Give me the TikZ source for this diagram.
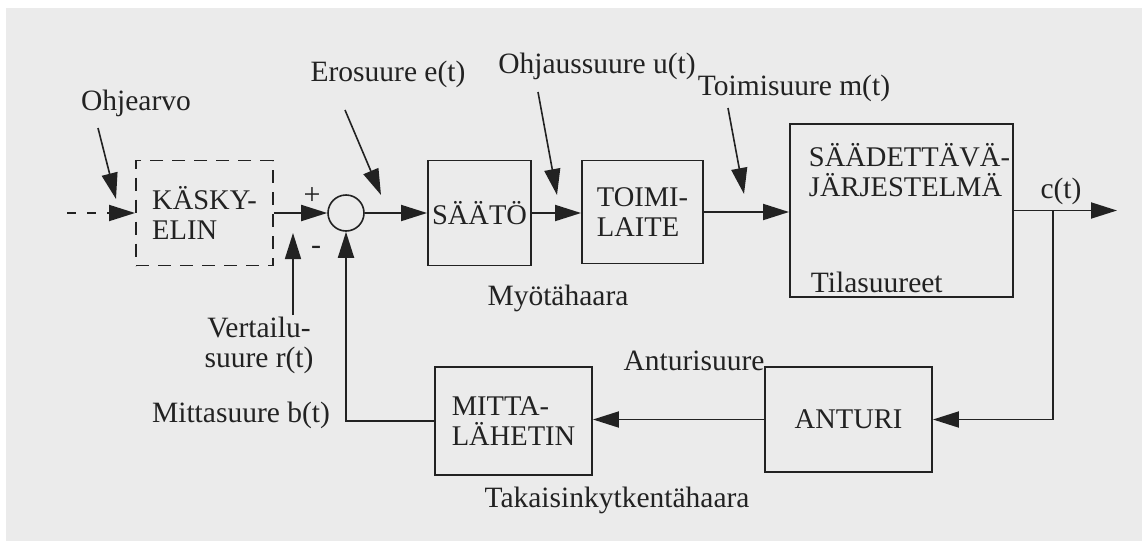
\documentclass[tikz,border=0pt]{standalone}
\usepackage{fontspec}
\setmainfont{Liberation Serif}
\usetikzlibrary{arrows.meta,calc}
\definecolor{ink}{HTML}{222222}
\definecolor{paper}{HTML}{EBEBEB}
\newcommand{\blkfont}{\fontsize{28.5}{30}\selectfont}
\newcommand{\lblfont}{\fontsize{29.5}{30}\selectfont}
\newcommand{\signfont}{\fontsize{30}{30}\selectfont}

\begin{document}
\begin{tikzpicture}[x=1pt,y=-1pt,
  color=ink, line width=1.9pt,
  >={Triangle[length=26pt,width=16pt]},
  blk/.style={draw, rectangle, inner sep=0pt, font=\blkfont, align=left},
  lbl/.style={inner sep=0pt, font=\lblfont, align=center},
  sign/.style={inner sep=0pt, font=\signfont},
  dashbox/.style={blk, dash pattern=on 13pt off 9pt},
  sig/.style={->},
  tag/.style={->, line width=1.6pt}]

% paper
\fill[white] (0,0) rectangle (1142,541);
\fill[paper] (6,8) rectangle (1142,541);
\useasboundingbox (0,0) rectangle (1142,541);

% blocks of the loop
\node[dashbox, minimum width=137pt, minimum height=105pt] (kasky) at (204.5,213) {K\"ASKY-\\ELIN};
\node[circle, draw, line width=1.6pt, minimum size=36pt, inner sep=0pt] (sum) at (346,213) {};
\node[blk, minimum width=103pt, minimum height=105pt] (saato) at (479.5,213) {S\"A\"AT\"O};
\node[blk, minimum width=121pt, minimum height=103pt] (toimi) at (642.5,212) {TOIMI-\\LAITE};
\node[draw, minimum width=223pt, minimum height=173pt, inner sep=0pt] (sys) at (901.5,210.5) {};
\node[font=\blkfont, align=left, inner sep=0pt, anchor=west] (systxt) at (808,170) {S\"A\"ADETT\"AV\"A-\\J\"ARJESTELM\"A};
\node[lbl, anchor=west] (tila) at (810,282) {Tilasuureet};
\node[blk, minimum width=167pt, minimum height=105pt] (anturi) at (848.5,419.5) {ANTURI};
\node[blk, minimum width=157pt, minimum height=108pt] (mitta) at (513.5,421) {MITTA-\\L\"AHETIN};

% signal names
\node[lbl] (ohjearvo) at (136,103) {Ohjearvo};
\node[lbl] (erosuure) at (388,74) {Erosuure e(t)};
\node[lbl] (ohjaus) at (597,66) {Ohjaussuure u(t)};
\node[lbl] (toimisuure) at (794,88) {Toimisuure m(t)};
\node[lbl] (myota) at (558,298) {My\"ot\"ahaara};
\node[lbl] (ct) at (1061,191) {c(t)};
\node[lbl] (anturisuure) at (694,361) {Anturisuure};
\node[lbl] (taka) at (617,500) {Takaisinkytkent\"ahaara};
\node[lbl] (rlab) at (259,345) {Vertailu-\\suure r(t)};
\node[lbl] (mlab) at (241,415) {Mittasuure b(t)};
\node[sign] (plus) at (312,196) {+};
\node[sign] (minus) at (316,250) {-};

% free ends
\coordinate (in) at (67,213);
\coordinate (out) at (1117,210.5);
\coordinate (branch) at (1053,210.5);
\coordinate (oa1) at (98,128);   \coordinate (oa2) at (116,199);
\coordinate (ea1) at (345,110);  \coordinate (ea2) at (381,195);
\coordinate (ua1) at (538,92);   \coordinate (ua2) at (557,195);
\coordinate (ma1) at (728,108);  \coordinate (ma2) at (744,194);
\coordinate (ra1) at (293,315);  \coordinate (ra2) at (293,233);

% forward path
\draw[sig, dash pattern=on 9pt off 11pt] (in) -- (kasky.west);
\draw[sig] (kasky.east) -- (sum.west);
\draw[sig] (sum.east) -- (saato.west);
\draw[sig] (saato.east) -- (saato.east -| toimi.west);
\draw[sig] (toimi.east) -- (toimi.east -| sys.west);
\draw[sig] (sys.east) -- (out);

% feedback path
\draw[sig] (branch) |- (anturi.east);
\draw[sig] (anturi.west) -- (anturi.west -| mitta.east);
\draw[sig] (mitta.west) -| (sum.south);

% pointers from the signal names
\draw[tag] (oa1) -- (oa2);
\draw[tag] (ea1) -- (ea2);
\draw[tag] (ua1) -- (ua2);
\draw[tag] (ma1) -- (ma2);
\draw[tag] (ra1) -- (ra2);
\end{tikzpicture}
\end{document}
